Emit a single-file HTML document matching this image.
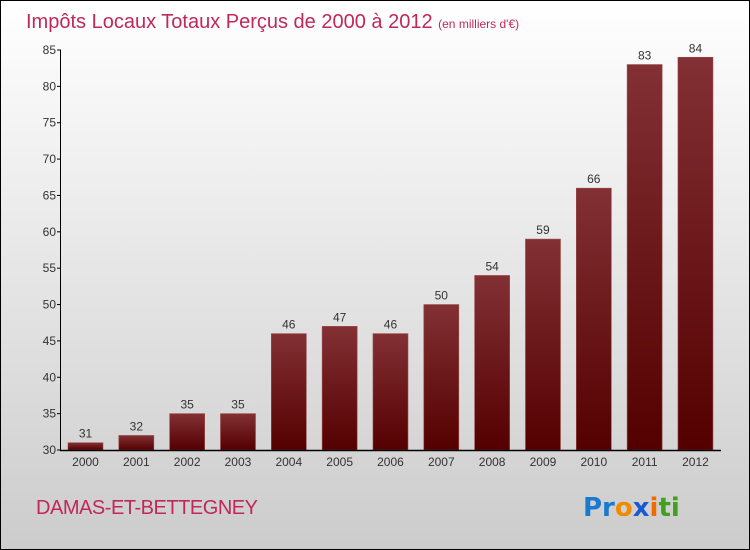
<!DOCTYPE html>
<html><head><meta charset="utf-8"><style>
body{margin:0}
#c{width:750px;height:550px;position:relative;box-sizing:border-box;border:1px solid #000;background:linear-gradient(#fff,#ccc);font-family:"Liberation Sans",sans-serif;overflow:hidden}
</style></head><body>
<div id="c">
<svg id="s" width="750" height="550" style="position:absolute;left:-1px;top:-1px">
<defs><linearGradient id="g" x1="0" y1="0" x2="0" y2="1"><stop offset="0" stop-color="#833035"/><stop offset="1" stop-color="#540000"/></linearGradient></defs>
<text x="26" y="28" font-size="20" fill="#c0285a">Impôts Locaux Totaux Perçus de 2000 à 2012 <tspan font-size="12">(en milliers d'€)</tspan></text>
<text x="36" y="514" font-size="20" fill="#c0285a" textLength="222">DAMAS-ET-BETTEGNEY</text>
<text x="583" y="516" font-size="26" font-weight="bold" font-family="'DejaVu Sans',sans-serif"><tspan fill="#1a7ad0">Pr</tspan><tspan fill="#f08a00">o</tspan><tspan fill="#1a5ad0">x</tspan><tspan fill="#f06a00">i</tspan><tspan fill="#40a020">ti</tspan></text>
<g id="plot"></g>
</svg>
</div>
<script>
const categories=["2000","2001","2002","2003","2004","2005","2006","2007","2008","2009","2010","2011","2012"];
const values=[31,32,35,35,46,47,46,50,54,59,66,83,84];
const yTicks=[30,35,40,45,50,55,60,65,70,75,80,85];
const ns="http://www.w3.org/2000/svg";
const g=document.getElementById('plot');
const y=v=>450-(v-30)*400/55;
const x=i=>85.5+i*50.83;
function mk(t,a,p){const e=document.createElementNS(ns,t);for(const k in a)e.setAttribute(k,a[k]);(p||g).appendChild(e);return e;}
values.forEach((v,i)=>{
 const r=mk('rect',{x:x(i)-17.5,y:y(v),width:35,height:450-y(v),fill:'url(#g)',stroke:'#9a4a4a','stroke-width':0.6});
 
 
 const t=mk('text',{x:x(i),y:y(v)-5,'font-size':12,fill:'#333','text-anchor':'middle'});t.textContent=v;
 
 
 const c=mk('text',{x:x(i),y:466,'font-size':12,fill:'#333','text-anchor':'middle'});c.textContent=categories[i];
 
 
});
yTicks.forEach(v=>{
 mk('line',{x1:57,x2:61,y1:y(v),y2:y(v),stroke:'#000'});
 const t=mk('text',{x:56,y:y(v)+4,'font-size':12,fill:'#333','text-anchor':'end'});t.textContent=v;
 
 
});
const ya=mk('line',{x1:60.5,x2:60.5,y1:50,y2:450,stroke:'#000'});


const xa=mk('line',{x1:60,x2:721,y1:450.5,y2:450.5,stroke:'#000','stroke-width':1.5});


</script>
</body></html>
